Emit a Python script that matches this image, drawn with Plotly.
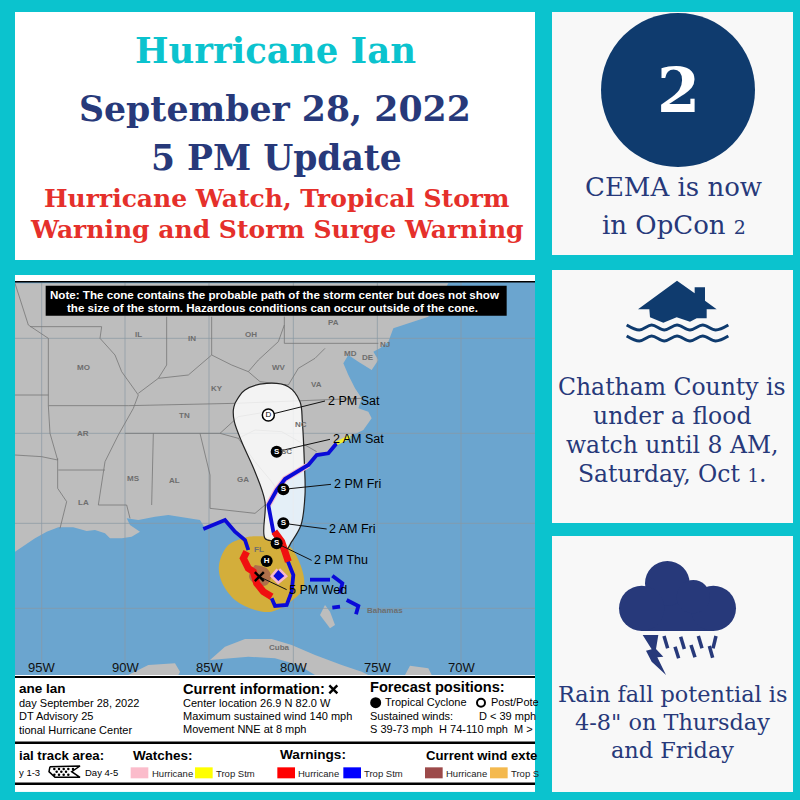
import plotly.graph_objects as go

TEAL = "#0BC3CE"
NAVY = "#27397A"
DARK_NAVY = "#0F3B6E"
RED = "#E5302B"
PANEL = "#F8F8F8"
LAND = "#BDBDBD"
OCEAN = "#6BA5CF"
BORDER = "#767676"
SERIF = "DejaVu Serif"
SANS = "Liberation Sans"

# map geometry, in the map axes units (3 units = 1 pixel)
land = [(0, 830), (30, 810), (60, 790), (95, 770), (130, 757), (175, 757), (215, 768), (240, 765), (270, 775),
        (285, 790), (320, 790), (350, 785), (375, 770), (345, 750), (335, 730), (370, 735), (420, 725), (460, 720),
        (510, 727), (555, 735), (570, 760), (630, 738), (660, 770), (690, 795), (700, 825), (700, 870), (730, 930),
        (770, 970), (780, 993), (815, 990), (832, 950), (835, 900), (815, 845), (800, 800), (775, 770), (762, 720),
        (760, 690), (785, 645), (810, 612), (880, 570), (905, 540), (940, 535), (965, 505), (1005, 485), (1045, 465),
        (1070, 430), (1060, 410), (1030, 400), (1040, 370), (1020, 340), (1000, 300), (985, 265), (1000, 240),
        (1030, 260), (1045, 270), (1070, 285), (1090, 255), (1075, 230), (1095, 220), (1120, 200), (1135, 160),
        (1210, 135), (1240, 125), (1300, 25), (0, 25)]
cuba = [(585, 1155), (630, 1115), (690, 1092), (770, 1092), (830, 1110), (900, 1140), (980, 1170), (1040, 1190),
        (1060, 1200), (900, 1200), (850, 1170), (780, 1150), (700, 1145), (640, 1150)]
yucatan = [(340, 1200), (400, 1170), (480, 1165), (495, 1190), (490, 1200)]
andros = [(915, 1020), (930, 990), (945, 1010), (960, 1050), (945, 1060)]
hispaniola = [(1170, 1200), (1185, 1172), (1240, 1180), (1250, 1200)]

borders = [
    [(45, 155), (260, 155), (255, 190), (300, 240), (320, 290), (370, 360), (355, 400), (310, 480), (270, 560),
     (250, 690), (335, 690), (345, 730)],
    [(370, 355), (430, 310), (520, 300), (590, 240), (650, 270), (700, 290), (730, 255), (790, 200), (808, 150)],
    [(455, 125), (455, 270), (430, 310)],
    [(590, 125), (590, 240)],
    [(808, 125), (808, 205), (1090, 205)],
    [(700, 290), (735, 320), (820, 330), (850, 280), (900, 250), (930, 220)],
    [(340, 392), (660, 385), (1040, 370)],
    [(330, 475), (615, 475), (670, 425), (760, 410)],
    [(615, 475), (670, 490), (720, 465), (800, 470), (905, 530)],
    [(415, 475), (410, 690)],
    [(555, 475), (585, 600), (585, 700), (720, 715), (750, 690)],
    [(670, 490), (720, 560), (770, 620), (790, 650)],
    [(130, 585), (270, 585)],
    [(128, 550), (128, 640), (155, 680), (135, 760)],
    [(100, 190), (100, 392), (340, 392)],
    [(100, 392), (105, 475), (128, 555)],
    [(0, 540), (80, 545), (128, 555)],
    [(0, 360), (100, 360)],
    [(0, 25), (40, 150), (100, 190)],
]
grid_x = [80, 330, 582, 835, 1087, 1338]
grid_y = [190, 475, 745, 1000]
grid_labels = ["95W", "90W", "85W", "80W", "75W", "70W"]

cone = [(660, 385), (690, 345), (755, 325), (820, 335), (855, 380), (862, 440), (868, 560), (870, 660), (858, 750),
        (830, 800), (812, 825), (780, 800), (750, 790), (750, 680), (720, 590), (680, 500), (658, 440), (655, 405),
        (660, 385)]
ts_wind = [(700, 785), (750, 785), (820, 810), (860, 880), (865, 940), (820, 985), (770, 1010), (720, 1005),
           (660, 975), (620, 920), (612, 870), (640, 810), (700, 785)]
hu_wind = [(720, 870), (755, 880), (768, 905), (755, 930), (725, 930), (702, 905), (720, 870)]

pink_halo = [(760, 690), (785, 645), (810, 612), (880, 570)]
gulf_watch = [(565, 762), (630, 735), (660, 770), (690, 795), (700, 825)]
ts_warning = [(770, 970), (780, 993), (815, 990), (830, 950), (835, 900), (820, 860), (805, 825), (775, 770),
              (760, 690), (785, 645), (810, 612), (880, 570), (905, 540), (940, 535), (965, 505)]
trop_watch = [(965, 505), (1005, 485)]
red_west = [(695, 830), (685, 850), (700, 880), (715, 890), (725, 925), (745, 950), (770, 965)]
red_east = [(778, 770), (800, 800), (820, 860)]
lake = [(790, 885), (808, 903), (790, 918), (775, 903), (790, 885)]
keys_dash = [[(885, 914), (945, 914)], [(952, 902), (982, 925), (975, 955)], [(952, 998), (975, 995)],
             [(995, 975), (1030, 993), (1023, 1018)]]

forecast_names = ["2 PM Sat", "2 AM Sat", "2 PM Fri", "2 AM Fri", "2 PM Thu", "5 PM Wed"]
forecast_points = [(760, 420), (785, 530), (805, 643), (805, 745), (785, 805), (733, 905)]
forecast_anchor = [(930, 378), (945, 493), (948, 628), (935, 762), (890, 856), (815, 944)]
forecast_letters = ["D", "S", "S", "S", "S"]
h_point = (755, 858)

state_names = ["MO", "IL", "IN", "OH", "PA", "WV", "VA", "KY", "TN", "AR", "NC", "SC", "GA", "MS", "AL", "LA", "FL",
               "NJ", "MD", "DE", "Bahamas", "Cuba"]
state_spots = [(205, 277), (370, 178), (532, 190), (708, 178), (955, 142), (793, 277), (905, 328), (607, 340),
               (507, 420), (205, 475), (858, 447), (815, 530), (683, 612), (355, 611), (477, 617), (205, 681),
               (733, 822), (1110, 207), (1005, 235), (1060, 248), (1110, 1005), (793, 1118)]

# icons, written as they measure in a 3x crop
house = [(264, 118), (381, 32), (434, 70), (434, 52), (465, 52), (465, 92), (500, 118), (470, 118), (470, 145),
         (440, 145), (420, 155), (380, 142), (340, 158), (320, 150), (300, 142), (298, 118)]
wave_x = [230, 268, 305, 343, 381, 420, 458, 497, 535]
wave_top = [165, 180, 165, 180, 165, 180, 165, 180, 165]
wave_bottom = [198, 213, 198, 213, 198, 213, 198, 213, 198]
cloud_circles = [(352, 130, 67), (275, 205, 68), (490, 205, 68), (430, 170, 50)]
cloud_body = [(275, 150), (490, 150), (490, 273), (275, 273)]
bolt = [(278, 285), (325, 285), (318, 327), (340, 350), (322, 352), (348, 405), (305, 365), (288, 332), (305, 328)]
rain = [(342, 288, 353, 325), (392, 290, 403, 327), (445, 288, 456, 325), (498, 288, 489, 325), (375, 320, 386, 355),
        (423, 315, 435, 352), (478, 318, 488, 353)]

fig = go.Figure()


def poly(points, color, axes="x2", line_color=None, line_width=0, shape="linear"):
    fig.add_trace(go.Scatter(
        x=[p[0] for p in points] + [points[0][0]], y=[p[1] for p in points] + [points[0][1]],
        xaxis=axes, yaxis="y" + axes[1:], mode="lines", fill="toself", fillcolor=color,
        line=dict(color=line_color or color, width=line_width, shape=shape), hoverinfo="skip", showlegend=False))


def line(points, color, width, axes="x2", shape="linear"):
    fig.add_trace(go.Scatter(
        x=[p[0] for p in points], y=[p[1] for p in points], xaxis=axes, yaxis="y" + axes[1:], mode="lines",
        line=dict(color=color, width=width, shape=shape), hoverinfo="skip", showlegend=False))


def label(text, x, y, size, color="black", family=SANS, bold=False, anchor="left", axes="x2"):
    fig.add_annotation(text=f"<b>{text}</b>" if bold else text, x=x, y=y, xref=axes, yref="y" + axes[1:],
                       showarrow=False, xanchor=anchor, yanchor="middle", font=dict(size=size, color=color, family=family))


def crop(points, x0, y0):
    return [(x0 + p[0] / 3, y0 + p[1] / 3) for p in points]


# page panels
poly([(0, 0), (800, 0), (800, 800), (0, 800)], TEAL, axes="x")
poly([(15, 12), (535, 12), (535, 260), (15, 260)], "white", axes="x")
poly([(552, 12), (793, 12), (793, 255), (552, 255)], PANEL, axes="x")
poly([(552, 270), (793, 270), (793, 523), (552, 523)], PANEL, axes="x")
poly([(552, 536), (793, 536), (793, 792), (552, 792)], PANEL, axes="x")

# OpCon badge
fig.add_shape(type="circle", x0=601, x1=755, y0=13, y1=167, xref="x", yref="y", fillcolor=DARK_NAVY, line_width=0)

# flood icon
poly(crop(house, 550, 270), DARK_NAVY, axes="x")
for ys in (wave_top, wave_bottom):
    line(crop(list(zip(wave_x, ys)), 550, 270), DARK_NAVY, 3, axes="x", shape="spline")

# rain icon
for cx, cy, r in cloud_circles:
    fig.add_shape(type="circle", x0=550 + (cx - r) / 3, x1=550 + (cx + r) / 3, y0=540 + (cy - r) / 3,
                  y1=540 + (cy + r) / 3, xref="x", yref="y", fillcolor=NAVY, line_width=0)
poly(crop(cloud_body, 550, 540), NAVY, axes="x")
poly(crop(bolt, 550, 540), NAVY, axes="x")
for x0, y0, x1, y1 in rain:
    line(crop([(x0, y0), (x1, y1)], 550, 540), NAVY, 3.5, axes="x")

# map
poly([(0, 0), (1560, 0), (1560, 1550), (0, 1550)], "white")
poly([(0, 20), (1560, 20), (1560, 1200), (0, 1200)], OCEAN)
poly(land, LAND)
for shape_pts in (cuba, yucatan, andros, hispaniola):
    poly(shape_pts, LAND)
for gx in grid_x:
    line([(gx, 20), (gx, 1200)], "#8A98A3", 0.7)
for gy in grid_y:
    line([(0, gy), (1560, gy)], "#8A98A3", 0.7)
for b in borders:
    line(b, BORDER, 0.8)
poly(ts_wind, "#D3AE3B", shape="spline")
poly(hu_wind, "#B0704A", shape="spline")
poly(cone, "rgba(255,255,255,0.82)", line_color="#222222", line_width=1.2, shape="spline")
line(pink_halo, "#F7B8CB", 6)
line(gulf_watch, "#0A0AD8", 3.8)
line(ts_warning, "#0A0AD8", 3.8)
line(trop_watch, "#F2EE30", 3.5)
line(red_west, "#F01010", 7)
line(red_east, "#F01010", 7)
line(lake, "#F7B8CB", 5)
poly(lake, "#0A0AD8")
for d in keys_dash:
    line(d, "#0A0AD8", 3.8)
for p, a in zip(forecast_points, forecast_anchor):
    line([p, a], "#111111", 1)

fig.add_trace(go.Scatter(
    x=[p[0] for p in forecast_points[1:5]] + [h_point[0]], y=[p[1] for p in forecast_points[1:5]] + [h_point[1]],
    xaxis="x2", yaxis="y2", mode="markers+text", text=["S", "S", "S", "S", "H"], textposition="middle center",
    textfont=dict(color="white", size=8, family=SANS, weight=700), marker=dict(color="black", size=12),
    hoverinfo="skip", showlegend=False))
fig.add_trace(go.Scatter(
    x=[forecast_points[0][0]], y=[forecast_points[0][1]], xaxis="x2", yaxis="y2", mode="markers+text",
    text=[forecast_letters[0]], textposition="middle center", textfont=dict(color="black", size=8, family=SANS),
    marker=dict(color="white", size=12, line=dict(color="black", width=1.5)), hoverinfo="skip", showlegend=False))
fig.add_trace(go.Scatter(
    x=[forecast_points[5][0]], y=[forecast_points[5][1]], xaxis="x2", yaxis="y2", mode="markers",
    marker=dict(symbol="x-thin", size=9, line=dict(color="black", width=2.4)), hoverinfo="skip", showlegend=False))

# note box
poly([(92, 32), (1475, 32), (1475, 122), (92, 122)], "black")
label("Note: The cone contains the probable path of the storm center but does not show", 780, 58, 11.6, "white", bold=True, anchor="center")
label("the size of the storm. Hazardous conditions can occur outside of the cone.", 771, 97, 11.6, "white", bold=True, anchor="center")

for name, spot in zip(state_names, state_spots):
    label(name, spot[0], spot[1], 8, "#6E6E6E", bold=True, anchor="center")
for name, a in zip(forecast_names, forecast_anchor):
    label(name, a[0] + 2, a[1], 12.5, "black", bold=False)
for gx, gl in zip(grid_x, grid_labels):
    label(gl, gx, 1177, 13, "#111111", anchor="center")

# legend strip below the map
poly([(0, 1200), (1560, 1200), (1560, 1550), (0, 1550)], "white")
for ly, w in ((20, 1.5), (1206, 2), (1403, 2.5), (1526, 2.5)):
    line([(0, ly), (1560, ly)], "black", w)

strip_top = 1185
label("ane Ian", 5, strip_top + 55, 13.5, bold=True)
label("day September 28, 2022", 5, strip_top + 99, 11)
label("DT Advisory 25", 5, strip_top + 137, 11)
label("tional Hurricane Center", 5, strip_top + 180, 11)
label("Current information:", 497, strip_top + 57, 14.6, bold=True)
label("Center location 26.9 N 82.0 W", 497, strip_top + 99, 11)
label("Maximum sustained wind 140 mph", 497, strip_top + 137, 11)
label("Movement NNE at 8 mph", 497, strip_top + 177, 11)
label("Forecast positions:", 1060, strip_top + 52, 14.6, bold=True)
label("Tropical Cyclone", 1105, strip_top + 97, 11)
label("Post/Pote", 1423, strip_top + 97, 11)
label("Sustained winds:", 1060, strip_top + 137, 11)
label("D &lt; 39 mph", 1385, strip_top + 137, 11)
label("S 39-73 mph  H 74-110 mph  M &gt;", 1060, strip_top + 177, 11)
label("ial track area:", 5, strip_top + 256, 13.2, bold=True)
label("y 1-3", 5, strip_top + 306, 9.5)
label("Day 4-5", 203, strip_top + 306, 9.5)
label("Watches:", 347, strip_top + 256, 13.5, bold=True)
label("Warnings:", 788, strip_top + 252, 13.6, bold=True)
label("Current wind exte", 1228, strip_top + 256, 13.2, bold=True)

swatch_x = [347, 540, 787, 985, 1230, 1425]
swatch_colors = ["#FBBCCB", "#FFFF00", "#FF0000", "#0000FF", "#9C4A4A", "#F4B94E"]
swatch_names = ["Hurricane", "Trop Stm", "Hurricane", "Trop Stm", "Hurricane", "Trop S"]
for sx, sc, sn in zip(swatch_x, swatch_colors, swatch_names):
    poly([(sx, strip_top + 292), (sx + 53, strip_top + 292), (sx + 53, strip_top + 325), (sx, strip_top + 325)], sc)
    label(sn, sx + 57, strip_top + 309, 9.5, "#222222")

day45 = [(105, 290), (195, 288), (170, 305), (195, 322), (120, 322), (102, 305)]
poly([(p[0], strip_top + p[1]) for p in day45], "white", line_color="black", line_width=1.5)
dots_x = [118, 132, 146, 160, 174, 125, 139, 153, 118, 132, 146, 160]
dots_y = [297, 297, 297, 297, 297, 305, 305, 305, 314, 314, 314, 314]
fig.add_trace(go.Scatter(x=dots_x, y=[strip_top + v for v in dots_y], xaxis="x2", yaxis="y2", mode="markers",
                         marker=dict(color="black", size=2.5), hoverinfo="skip", showlegend=False))
fig.add_trace(go.Scatter(x=[1082], y=[strip_top + 98], xaxis="x2", yaxis="y2", mode="markers",
                         marker=dict(color="black", size=11), hoverinfo="skip", showlegend=False))
fig.add_trace(go.Scatter(x=[1398], y=[strip_top + 98], xaxis="x2", yaxis="y2", mode="markers",
                         marker=dict(color="white", size=8, line=dict(color="black", width=2)), hoverinfo="skip", showlegend=False))
fig.add_trace(go.Scatter(x=[955], y=[strip_top + 58], xaxis="x2", yaxis="y2", mode="markers",
                         marker=dict(symbol="x-thin", size=8, line=dict(color="black", width=2.4)), hoverinfo="skip", showlegend=False))

# headline text
label("Hurricane Ian", 275, 50, 35.5, TEAL, SERIF, True, "center", "x")
label("September 28, 2022", 275, 108, 34.7, NAVY, SERIF, True, "center", "x")
label("5 PM Update", 276, 158, 34.5, NAVY, SERIF, True, "center", "x")
label("Hurricane Watch, Tropical Storm", 276, 198, 25, RED, SERIF, True, "center", "x")
label("Warning and Storm Surge Warning", 277, 229, 25, RED, SERIF, True, "center", "x")

label("2", 678, 90, 62, "white", SERIF, True, "center", "x")
label("CEMA is now", 673, 187, 26, NAVY, SERIF, False, "center", "x")
label('in OpCon <span style="font-size:19px">2</span>', 674, 225, 26, NAVY, SERIF, False, "center", "x")

flood_lines = ["Chatham County is", "under a flood", "watch until 8 AM,", 'Saturday, Oct <span style="font-size:18px">1</span>.']
flood_y = [387, 416, 445, 474]
for t, y in zip(flood_lines, flood_y):
    label(t, 672, y, 23.5, NAVY, SERIF, False, "center", "x")

rain_lines = ["Rain fall potential is", '4-8" on Thursday', "and Friday"]
rain_y = [694, 722, 750]
for t, y in zip(rain_lines, rain_y):
    label(t, 672, y, 22.4, NAVY, SERIF, False, "center", "x")

hidden = dict(visible=False, fixedrange=True)
fig.update_layout(
    width=800, height=800, margin=dict(l=0, r=0, t=0, b=0), paper_bgcolor=TEAL, plot_bgcolor="rgba(0,0,0,0)",
    showlegend=False,
    xaxis=dict(range=[0, 800], domain=[0, 1], **hidden),
    yaxis=dict(range=[800, 0], domain=[0, 1], **hidden),
    xaxis2=dict(range=[0, 1560], domain=[15 / 800, 535 / 800], anchor="y2", **hidden),
    yaxis2=dict(range=[1560, 0], domain=[1 - 795 / 800, 1 - 275 / 800], anchor="x2", **hidden),
)

fig.write_html("out.html", config=dict(displayModeBar=False), post_script="document.body.style.margin='0'")
